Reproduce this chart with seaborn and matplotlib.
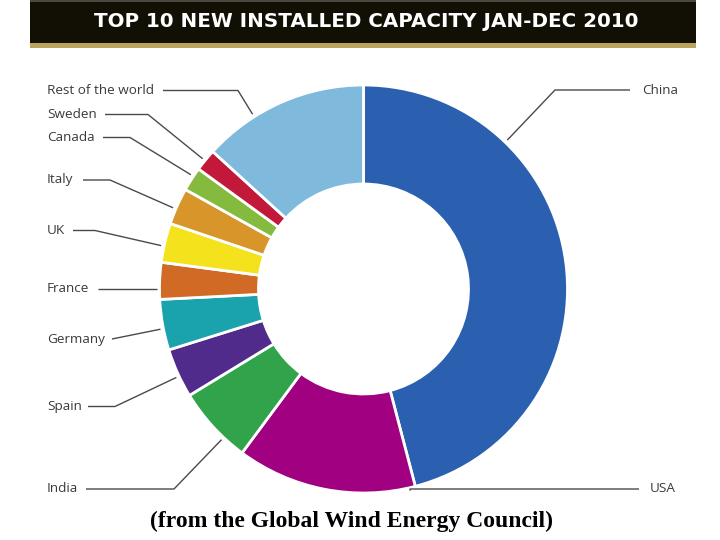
import matplotlib
matplotlib.use("Agg")
import matplotlib.pyplot as plt
import numpy as np
import seaborn as sns
from matplotlib.patches import Rectangle

# slice shares (% of new capacity), clockwise from 12 o'clock
countries = ["China", "USA", "India", "Spain", "Germany", "France",
             "UK", "Italy", "Canada", "Sweden", "Rest of the world"]
shares = [45.8, 14.2, 6.1, 3.9, 4.0, 2.9, 3.1, 2.9, 1.9, 1.75, 13.2]
colors = ["#2b5fb0", "#a10080", "#31a34a", "#502b8c", "#1aa3ad", "#d06a24",
          "#f4e31c", "#d8952a", "#84bb3e", "#c2183a", "#7fbadd"]

title = "TOP 10 NEW INSTALLED CAPACITY JAN-DEC 2010"
caption = "(from the Global Wind Energy Council)"

# label layout in pixels: text x, line y, line start x, elbow x, anchor angle (deg cw from top)
label_layout = {
    "China": (642, 90, 630, 555, 44.0),
    "USA": (650, 489, 639, 410, 167.0),
    "India": (47, 489, 86, 174, 360 - 136.7),
    "Spain": (47, 406.5, 88, 115, 360 - 115.3),
    "Germany": (47, 339, 112, 112, 360 - 101.2),
    "France": (47, 288.5, 98, 98, 360 - 90.1),
    "UK": (47, 230.5, 73, 95, 360 - 77.9),
    "Italy": (47, 180, 83, 110, 360 - 66.9),
    "Canada": (47, 137.5, 103, 130, 360 - 56.5),
    "Sweden": (47, 114.5, 105, 148, 360 - 51.0),
    "Rest of the world": (47, 90.5, 163, 238, 360 - 32.4),
}

CX, CY, R_OUT, R_IN = 363.5, 289, 204, 105
H = 540


def py(y):
    # pixel row -> data y
    return H - y


sns.set_theme(style="white")
plt.rcParams["font.family"] = ["Open Sans", "DejaVu Sans"]

fig = plt.figure(figsize=(7.2, 5.4), dpi=100)
ax = fig.add_axes([0, 0, 1, 1])

ax.pie(shares, colors=colors, startangle=90, counterclock=False,
       center=(CX, py(CY)), radius=R_OUT,
       wedgeprops=dict(width=R_OUT - R_IN, edgecolor="white", linewidth=2))

for name in countries:
    tx, ly, x0, xe, ang = label_layout[name]
    a = np.deg2rad(ang)
    ax_x = CX + 207 * np.sin(a)
    ax_y = CY - 207 * np.cos(a)
    if name == "France":
        ax_y = ly  # straight leader
    ax.plot([x0, xe, ax_x], [py(ly), py(ly), py(ax_y)], color="#4a4a4a", lw=1,
            solid_capstyle="butt")
    ax.text(tx, py(ly), name, ha="left", va="center", fontsize=9.7,
            color="#3a3a3a")

# banner
ax.add_patch(Rectangle((30, py(43)), 666, 43, facecolor="#120f05", edgecolor="none"))
ax.add_patch(Rectangle((30, py(47.5)), 666, 4.5, facecolor="#b9a45c", edgecolor="none"))
ax.add_patch(Rectangle((30, py(1.5)), 666, 1.5, facecolor="#4a4740", edgecolor="none"))
ax.text(366.5, py(21.5), title, ha="center", va="center", color="white",
        fontsize=14.3, fontweight="semibold", family=["DejaVu Sans"])

ax.text(351.5, py(521), caption, ha="center", va="center", fontsize=17,
        fontweight="bold", family=["Liberation Serif"], color="black")

ax.set_xlim(0, 720)
ax.set_ylim(0, H)
ax.set_aspect("equal")
ax.axis("off")

fig.savefig("out.png", dpi=100)
